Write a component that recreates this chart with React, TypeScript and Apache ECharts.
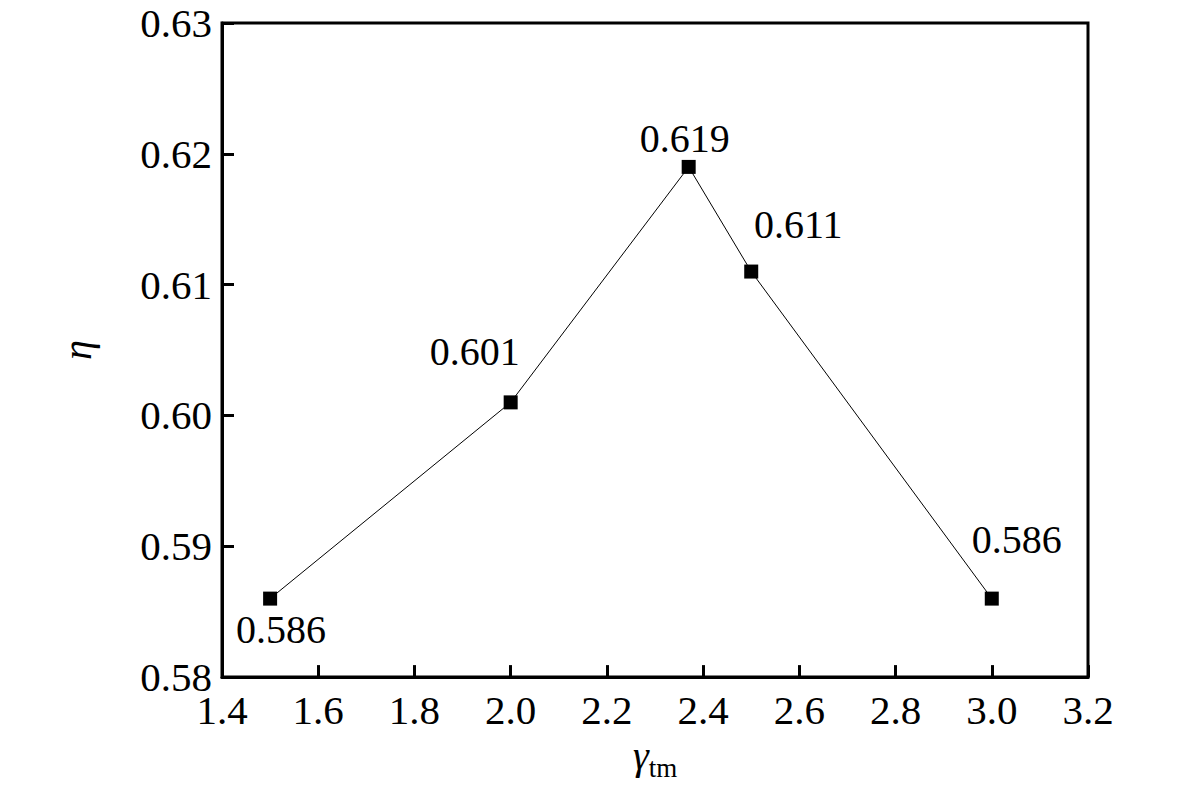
import { useRef, useEffect } from 'react';
import * as echarts from 'echarts';

// γ_tm values and efficiency η
const gammaValues = [1.5, 2.0, 2.37, 2.5, 3.0];
const etaValues = [0.586, 0.601, 0.619, 0.611, 0.586];
const etaLabels = ['0.586', '0.601', '0.619', '0.611', '0.586'];
// where each value label sits relative to its marker (px)
const labelOffsets = [
  [11, 31],
  [-36, -51],
  [-4, -28],
  [47, -47],
  [25, -59],
];

const FONT = "'Liberation Serif', 'Times New Roman', serif";

export default function App() {
  const chartRef = useRef<HTMLDivElement>(null);

  useEffect(() => {
    document.body.style.margin = '0';
    let chart: echarts.ECharts | undefined;

    if (chartRef.current) {
      chart = echarts.init(chartRef.current, undefined, { renderer: 'svg' });

      chart.setOption({
        animation: false,
        backgroundColor: '#fff',
        textStyle: { fontFamily: FONT, color: '#000' },
        grid: {
          left: 222,
          right: 93,
          top: 23,
          bottom: 107,
          show: true,
          borderColor: '#000',
          borderWidth: 3,
          backgroundColor: 'transparent',
        },
        xAxis: {
          type: 'value',
          min: 1.4,
          max: 3.2,
          interval: 0.2,
          name: '{g|γ}{s|tm}',
          nameLocation: 'middle',
          nameGap: 46,
          nameTextStyle: {
            rich: {
              g: { fontFamily: FONT, fontStyle: 'italic', fontSize: 40, color: '#000' },
              s: { fontFamily: FONT, fontSize: 27, color: '#000', padding: [24, 0, 0, 0] },
            },
          },
          axisLine: { lineStyle: { color: '#000', width: 3 } },
          axisTick: { inside: true, length: 12, lineStyle: { color: '#000', width: 3 } },
          axisLabel: {
            fontFamily: FONT,
            fontSize: 41,
            lineHeight: 30,
            color: '#000',
            margin: 18,
            formatter: (v: number) => v.toFixed(1),
          },
          splitLine: { show: false },
        },
        yAxis: {
          type: 'value',
          min: 0.58,
          max: 0.63,
          interval: 0.01,
          name: 'η',
          nameLocation: 'middle',
          nameGap: 125,
          nameRotate: 90,
          nameTextStyle: { fontFamily: FONT, fontStyle: 'italic', fontSize: 40, color: '#000' },
          axisLine: { lineStyle: { color: '#000', width: 3 } },
          axisTick: { inside: true, length: 12, lineStyle: { color: '#000', width: 3 } },
          axisLabel: {
            fontFamily: FONT,
            fontSize: 41,
            lineHeight: 30,
            color: '#000',
            margin: 10,
            formatter: (v: number) => v.toFixed(2),
          },
          splitLine: { show: false },
        },
        series: [
          {
            type: 'line',
            data: gammaValues.map((g, i) => ({
              value: [g, etaValues[i]],
              label: {
                show: true,
                position: 'inside',
                offset: labelOffsets[i],
                formatter: etaLabels[i],
              },
            })),
            symbol: 'rect',
            symbolSize: 14,
            itemStyle: { color: '#000' },
            lineStyle: { color: '#000', width: 1 },
            label: {
              fontFamily: FONT,
              fontSize: 40,
              color: '#000',
            },
            emphasis: { disabled: true },
          },
        ],
      });
    }

    const handleResize = () => {
      chart?.resize();
    };
    window.addEventListener('resize', handleResize);

    return () => {
      chart?.dispose();
      window.removeEventListener('resize', handleResize);
    };
  }, []);

  return <div ref={chartRef} style={{ width: 1181, height: 786 }} />;
}
